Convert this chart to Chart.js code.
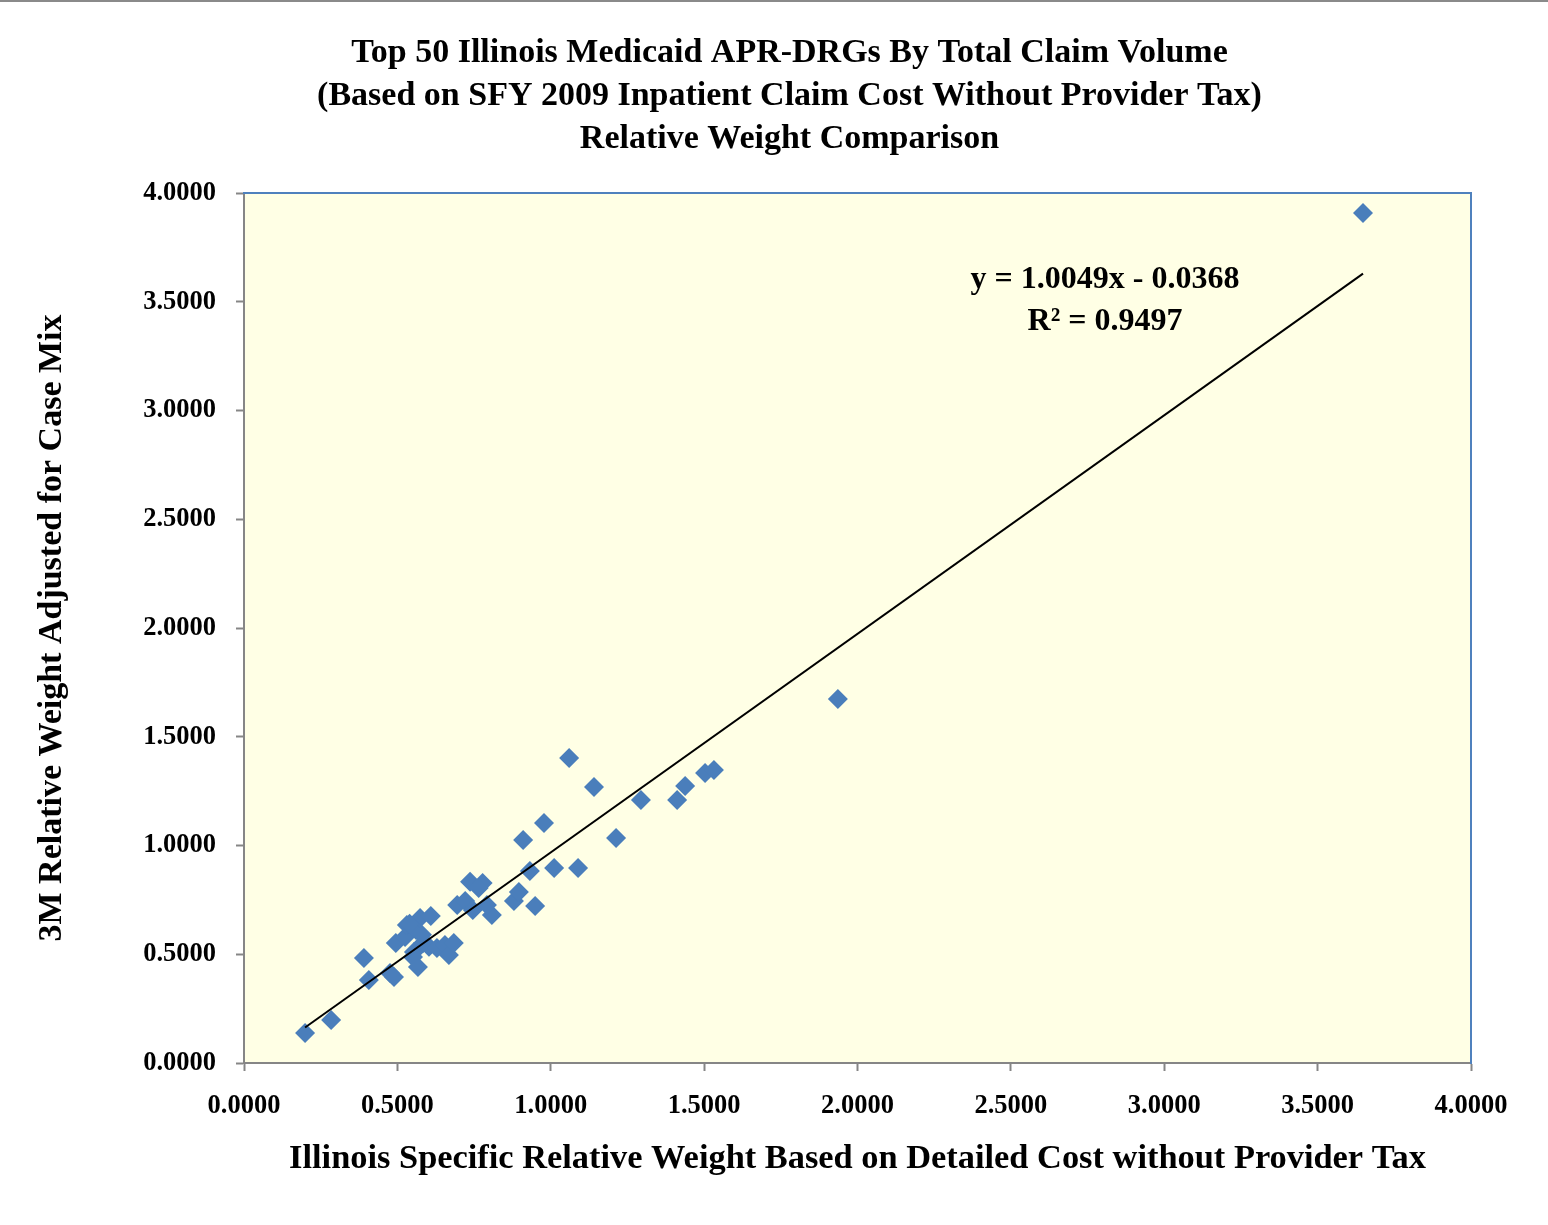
<!DOCTYPE html>
<html>
<head>
<meta charset="utf-8">
<script src="https://cdn.jsdelivr.net/npm/chart.js@4"></script>
<style>
  html, body { margin: 0; padding: 0; background: #fff; }
  #wrap { width: 1548px; height: 1225px; position: relative; }
</style>
</head>
<body>
<div id="wrap"><canvas id="chart"></canvas></div>
<script>
// Illinois specific relative weight (x) vs 3M relative weight adjusted (y)
let illinoisWeight = [
  0.199, 0.284, 0.391, 0.407, 0.476, 0.489, 0.495, 0.525, 0.531, 0.554,
  0.567, 0.561, 0.574, 0.609, 0.584, 0.551, 0.603, 0.629, 0.655, 0.668,
  0.684, 0.695, 0.721, 0.737, 0.778, 0.746, 0.808, 0.792, 0.880, 0.896,
  0.910, 0.932, 0.949, 0.978, 1.011, 1.060, 1.089, 1.141, 1.213, 1.294,
  1.412, 1.438, 1.503, 1.532, 1.936, 3.648, 0.540, 0.765, 0.580
]
let mWeight = [
  0.138, 0.198, 0.483, 0.382, 0.414, 0.395, 0.552, 0.579, 0.634, 0.510,
  0.441, 0.611, 0.667, 0.676, 0.552, 0.487, 0.534, 0.529, 0.543, 0.497,
  0.552, 0.726, 0.745, 0.833, 0.828, 0.703, 0.680, 0.726, 0.745, 0.786,
  1.025, 0.883, 0.722, 1.103, 0.897, 1.402, 0.897, 1.269, 1.034, 1.209,
  1.209, 1.274, 1.333, 1.347, 1.674, 3.908, 0.640, 0.805, 0.590
]

// linear trendline as printed on the chart
let slope = 1.0049
let intercept = -0.0368
let r2 = 0.9497

let titleLines = [
  'Top 50 Illinois Medicaid APR-DRGs By Total Claim Volume',
  '(Based on SFY 2009 Inpatient Claim Cost Without Provider Tax)',
  'Relative Weight Comparison'
]
let xTitle = 'Illinois Specific Relative Weight Based on Detailed Cost without Provider Tax'
let yTitle = '3M Relative Weight Adjusted for Case Mix'

let points = illinoisWeight.map((x, i) => ({x: x, y: mWeight[i]}))
let xMin = Math.min(...illinoisWeight)
let xMax = Math.max(...illinoisWeight)
let trend = [
  {x: xMin, y: slope * xMin + intercept},
  {x: xMax, y: slope * xMax + intercept}
]

const serif = '"Liberation Serif", "DejaVu Serif", serif'
const axisGray = '#868686'

let plotBg = {
  id: 'plotBg',
  beforeDraw(chart) {
    let {ctx, chartArea: a} = chart
    ctx.save()
    ctx.fillStyle = '#ffffe5'
    ctx.fillRect(a.left, a.top, a.right - a.left, a.bottom - a.top)
    // thin gray rule across the very top of the page
    ctx.strokeStyle = '#8a8a8a'
    ctx.lineWidth = 2
    ctx.beginPath()
    ctx.moveTo(0, 1)
    ctx.lineTo(chart.width, 1)
    ctx.stroke()
    ctx.restore()
  }
}

let trendLabel = {
  id: 'trendLabel',
  afterDatasetsDraw(chart) {
    let {ctx, chartArea: a} = chart
    ctx.save()
    ctx.fillStyle = '#000'
    ctx.font = 'bold 32px ' + serif
    ctx.textAlign = 'center'
    ctx.textBaseline = 'middle'
    let cx = a.left + 861
    ctx.fillText('y = ' + slope.toFixed(4) + 'x - ' + Math.abs(intercept).toFixed(4), cx, a.top + 87)
    ctx.fillText('R\u00b2 = ' + r2.toFixed(4), cx, a.top + 129)
    ctx.restore()
  }
}

let ctx = document.getElementById('chart').getContext('2d')
let myChart = new Chart(ctx, {
  type: 'scatter',
  data: {
    datasets: [
      {
        label: 'Linear trend',
        data: trend,
        showLine: true,
        borderColor: '#000',
        borderWidth: 2,
        pointRadius: 0,
        fill: false
      },
      {
        label: 'APR-DRG',
        data: points,
        pointStyle: 'rectRot',
        pointRadius: 10,
        backgroundColor: '#4a7ebb',
        borderColor: '#4a7ebb',
        borderWidth: 0
      }
    ]
  },
  options: {
    responsive: true,
    maintainAspectRatio: false,
    animation: false,
    layout: { padding: { left: 31, right: 0, top: 0, bottom: 0 } },
    plugins: {
      legend: { display: false },
      tooltip: { enabled: false },
      title: {
        display: true,
        text: titleLines,
        color: '#000',
        font: { family: serif, size: 34, weight: 'bold', lineHeight: 43 / 34 },
        padding: { top: 32, bottom: 32 }
      }
    },
    scales: {
      x: {
        type: 'linear',
        position: 'bottom',
        min: 0,
        max: 4,
        ticks: {
          stepSize: 0.5,
          color: '#000',
          padding: 19,
          font: { family: serif, size: 26.5, weight: 'bold' },
          callback: v => v.toFixed(4)
        },
        grid: { drawOnChartArea: false, drawTicks: true, tickLength: 8, tickColor: axisGray, tickWidth: 2 },
        border: { color: axisGray, width: 2 },
        title: {
          display: true,
          text: xTitle,
          color: '#000',
          font: { family: serif, size: 34.4, weight: 'bold', lineHeight: 1.2 },
          padding: { top: 0, bottom: 45 }
        },
        afterFit: s => { s.height = 162 }
      },
      y: {
        type: 'linear',
        position: 'left',
        min: 0,
        max: 4,
        ticks: {
          stepSize: 0.5,
          color: '#000',
          padding: 20,
          font: { family: serif, size: 26.5, weight: 'bold' },
          callback: v => v.toFixed(4)
        },
        grid: { drawOnChartArea: false, drawTicks: true, tickLength: 8, tickColor: axisGray, tickWidth: 2 },
        border: { color: axisGray, width: 2 },
        title: {
          display: true,
          text: yTitle,
          color: '#000',
          font: { family: serif, size: 34, weight: 'bold', lineHeight: 1.2 },
          padding: { top: 1, bottom: 0 }
        },
        afterFit: s => { s.width = 213 }
      },
      xTop: {
        axis: 'x',
        type: 'linear',
        position: 'top',
        display: true,
        min: 0,
        max: 4,
        ticks: { display: false },
        grid: { display: false },
        border: { color: '#4f81bd', width: 2 },
        afterFit: s => { s.height = 0 }
      },
      yRight: {
        axis: 'y',
        type: 'linear',
        position: 'right',
        display: true,
        min: 0,
        max: 4,
        ticks: { display: false },
        grid: { display: false },
        border: { color: '#4f81bd', width: 2 },
        afterFit: s => { s.width = 77 }
      }
    }
  },
  plugins: [plotBg, trendLabel]
})
</script>
</body>
</html>
